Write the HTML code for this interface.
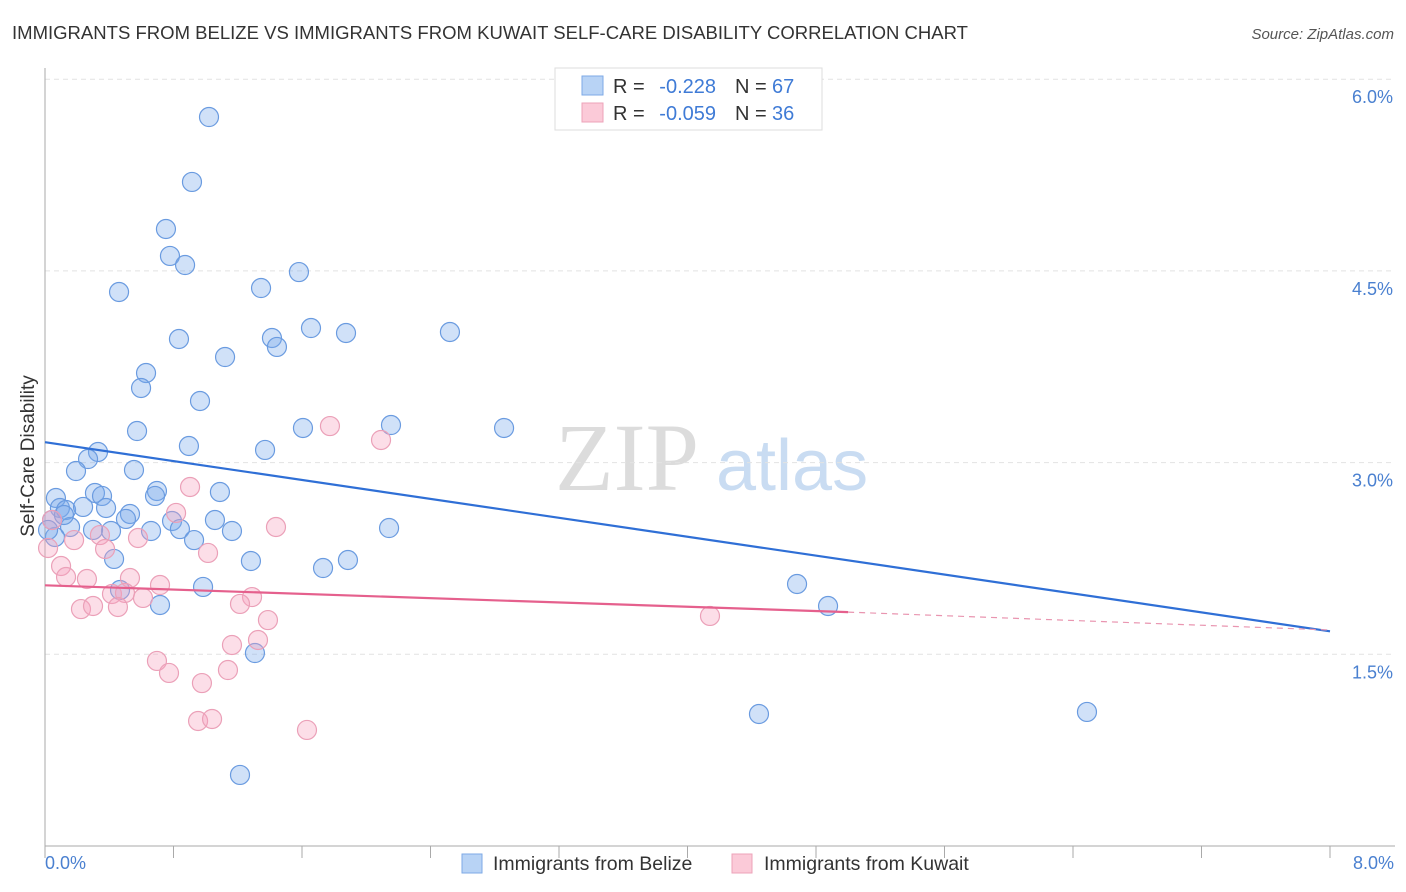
<!DOCTYPE html>
<html><head><meta charset="utf-8"><style>
body{margin:0;background:#fff;font-family:"Liberation Sans",sans-serif;}
svg{display:block}
</style></head><body>
<svg id="chart" width="1406" height="892" xmlns="http://www.w3.org/2000/svg">
<text x="12" y="39" font-size="18" fill="#333" textLength="956" lengthAdjust="spacingAndGlyphs">IMMIGRANTS FROM BELIZE VS IMMIGRANTS FROM KUWAIT SELF-CARE DISABILITY CORRELATION CHART</text>
<text x="1394" y="39" font-size="15" fill="#555" text-anchor="end" font-style="italic">Source: ZipAtlas.com</text>
<text x="555" y="490" font-size="96" font-family="Liberation Serif,serif" fill="#dcdcdc">ZIP</text>
<text x="716" y="490" font-size="72" fill="#c9dcf2">atlas</text>
<g id="grid"></g>
<g id="axes"></g>
<g id="pts"></g>
<g id="lines"></g>
<text transform="translate(34,456) rotate(-90)" font-size="19" fill="#333" text-anchor="middle">Self-Care Disability</text>
<text x="45" y="869" font-size="18" fill="#4a80d0">0.0%</text>
<text x="1394" y="869" font-size="18" fill="#4a80d0" text-anchor="end">8.0%</text>
<g>
<rect x="555" y="68" width="267" height="62" fill="#fff" stroke="#ddd"/>
<rect x="582" y="76" width="21" height="19" fill="#b8d3f5" stroke="#7ea9e6"/>
<rect x="582" y="103" width="21" height="19" fill="#fbcad8" stroke="#eca3b9"/>
<text x="613" y="93" font-size="20" fill="#333">R =</text>
<text x="716" y="93" font-size="20" fill="#3f7bd6" text-anchor="end">-0.228</text>
<text x="735" y="93" font-size="20" fill="#333">N =</text>
<text x="772" y="93" font-size="20" fill="#3f7bd6">67</text>
<text x="613" y="120" font-size="20" fill="#333">R =</text>
<text x="716" y="120" font-size="20" fill="#3f7bd6" text-anchor="end">-0.059</text>
<text x="735" y="120" font-size="20" fill="#333">N =</text>
<text x="772" y="120" font-size="20" fill="#3f7bd6">36</text>
</g>
<g>
<rect x="462" y="854" width="20" height="19" fill="#b8d3f5" stroke="#7ea9e6"/>
<text x="493" y="870" font-size="19.5" fill="#333">Immigrants from Belize</text>
<rect x="732" y="854" width="20" height="19" fill="#fbcad8" stroke="#eca3b9"/>
<text x="764" y="870" font-size="19.5" fill="#333">Immigrants from Kuwait</text>
</g>
</svg>
<script>
const yTicks=[1.5,3.0,4.5,6.0];
const yTickLabels=["1.5%","3.0%","4.5%","6.0%"];
const xTicks=[0,0.8,1.6,2.4,3.2,4.0,4.8,5.6,6.4,7.2,8.0];
const belizePx=[[209,117],[192,182],[166,229],[170,256],[185,265],[119,292],[261,288],[299,272],[311,328],[346,333],[450,332],[179,339],[272,338],[277,347],[225,357],[146,373],[141,388],[200,401],[391,425],[504,428],[303,428],[137,431],[189,446],[265,450],[98,452],[88,459],[76,471],[134,470],[95,493],[102,496],[157,491],[220,492],[155,496],[56,498],[60,508],[66,510],[83,507],[106,508],[130,514],[126,519],[172,521],[215,520],[180,529],[232,531],[151,531],[111,531],[93,530],[70,527],[55,537],[389,528],[194,540],[114,559],[251,561],[348,560],[323,568],[203,587],[120,590],[797,584],[828,606],[160,605],[255,653],[759,714],[1087,712],[240,775],[52,520],[48,530],[64,515]];
const kuwaitPx=[[330,426],[381,440],[190,487],[176,513],[276,527],[52,520],[48,548],[138,538],[100,535],[74,540],[105,549],[208,553],[61,566],[66,577],[87,579],[130,578],[160,585],[112,594],[143,598],[252,597],[125,593],[81,609],[93,606],[118,607],[240,604],[268,620],[710,616],[232,645],[258,640],[157,661],[169,673],[228,670],[202,683],[198,721],[212,719],[307,730]];
const belizeX=belizePx.map(p=>+((p[0]-45)/1285*8).toFixed(3));
const belizeY=belizePx.map(p=>+((846-p[1])/127.8).toFixed(3));
const kuwaitX=kuwaitPx.map(p=>+((p[0]-45)/1285*8).toFixed(3));
const kuwaitY=kuwaitPx.map(p=>+((846-p[1])/127.8).toFixed(3));
const belizeTrend=[[0,3.16],[8,1.68]];
const kuwaitTrend=[[0,2.04],[5.0,1.83],[8,1.69]];
const NS="http://www.w3.org/2000/svg";
const X=v=>45+v/8*1285, Y=v=>846-v*127.8;
function mk(t,a,p){const e=document.createElementNS(NS,t);for(const k in a)e.setAttribute(k,a[k]);p.appendChild(e);return e;}
const grid=document.getElementById('grid'),axes=document.getElementById('axes'),pts=document.getElementById('pts'),lines=document.getElementById('lines');
yTicks.forEach((v,i)=>{
 const l=mk('line',{x1:45,x2:1395,y1:Y(v),y2:Y(v),stroke:'#e2e2e2','stroke-dasharray':'5,4'},grid);
 
 
 const t=mk('text',{x:1393,y:Y(v)+24,'font-size':18,fill:'#4a80d0','text-anchor':'end'},grid);
 t.textContent=yTickLabels[i];
 
 
});
let a=mk('line',{x1:45,x2:45,y1:68,y2:846,stroke:'#aaa'},axes);


a=mk('line',{x1:45,x2:1395,y1:846,y2:846,stroke:'#aaa'},axes);


xTicks.forEach(v=>{
 const t=mk('line',{x1:X(v),x2:X(v),y1:846,y2:858,stroke:'#aaa'},axes);
 
 
});
function dots(xs,ys,fill,stroke,name){xs.forEach((x,i)=>{
 const c=mk('circle',{cx:X(x),cy:Y(ys[i]),r:9.5,fill:fill,stroke:stroke,'stroke-width':1.2},pts);
 
 
});}
dots(belizeX,belizeY,'rgba(120,170,235,0.35)','#6a9be0','belize-point');
dots(kuwaitX,kuwaitY,'rgba(245,160,190,0.35)','#eba0b8','kuwait-point');
let ln=mk('line',{x1:X(belizeTrend[0][0]),y1:Y(belizeTrend[0][1]),x2:X(belizeTrend[1][0]),y2:Y(belizeTrend[1][1]),stroke:'#2f6fd6','stroke-width':2.2},lines);


ln=mk('line',{x1:X(kuwaitTrend[0][0]),y1:Y(kuwaitTrend[0][1]),x2:X(kuwaitTrend[1][0]),y2:Y(kuwaitTrend[1][1]),stroke:'#e5608d','stroke-width':2.2},lines);


ln=mk('line',{x1:X(kuwaitTrend[1][0]),y1:Y(kuwaitTrend[1][1]),x2:X(kuwaitTrend[2][0]),y2:Y(kuwaitTrend[2][1]),stroke:'#e995b0','stroke-width':1.2,'stroke-dasharray':'6,5'},lines);


</script>
</body></html>
